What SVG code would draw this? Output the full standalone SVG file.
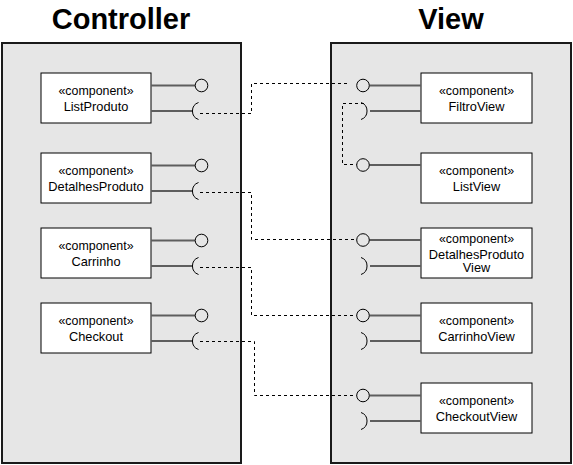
<svg xmlns="http://www.w3.org/2000/svg" width="573" height="465" viewBox="0 0 573 465">
<defs>
<style>
.title{font-family:"Liberation Sans",Arial,sans-serif;font-weight:bold;font-size:29px;fill:#000;text-anchor:middle}
.st{font-family:"Liberation Sans",Arial,sans-serif;font-size:12.4px;fill:#000;text-anchor:middle}
.nm{font-family:"Liberation Sans",Arial,sans-serif;font-size:12.8px;fill:#000;text-anchor:middle}
.cont{fill:#e6e6e6;stroke:#1a1a1a;stroke-width:2}
.box{fill:#fff;stroke:#000;stroke-width:1}
.lk{stroke:#5e5e5e;stroke-width:2;fill:none}
.ball{fill:none;stroke:#000;stroke-width:1}
.sock{fill:none;stroke:#000;stroke-width:1}
.dash{fill:none;stroke:#000;stroke-width:1;stroke-dasharray:3 3}
</style>
</defs>
<rect id="bg" x="0" y="0" width="573" height="465" fill="#fff"/>
<g id="controller">
<rect class="cont" x="2" y="43" width="239" height="420"/>
<text class="title" x="121" y="29">Controller</text>
</g>
<g id="view">
<rect class="cont" x="331" y="43" width="240" height="420"/>
<text class="title" x="451" y="29">View</text>
</g>

<g id="ListProduto">
<rect class="box" x="41" y="73" width="110" height="50"/>
<text class="st" x="96" y="95">«component»</text>
<text class="nm" x="96" y="111">ListProduto</text>
<line class="lk" x1="151" y1="85.5" x2="195" y2="85.5"/>
<circle class="ball" cx="201.5" cy="85.5" r="6.3"/>
<line class="lk" x1="151" y1="111" x2="192" y2="111"/>
<path class="sock" d="M198.5 102.5 A9 9 0 0 0 198.5 119.5"/>
</g>
<g id="DetalhesProduto">
<rect class="box" x="41" y="153" width="110" height="50"/>
<text class="st" x="96" y="175">«component»</text>
<text class="nm" x="96" y="191">DetalhesProduto</text>
<line class="lk" x1="151" y1="165.5" x2="195" y2="165.5"/>
<circle class="ball" cx="201.5" cy="165.5" r="6.3"/>
<line class="lk" x1="151" y1="191" x2="192" y2="191"/>
<path class="sock" d="M198.5 182.5 A9 9 0 0 0 198.5 199.5"/>
</g>
<g id="Carrinho">
<rect class="box" x="41" y="228" width="110" height="50"/>
<text class="st" x="96" y="250">«component»</text>
<text class="nm" x="96" y="266">Carrinho</text>
<line class="lk" x1="151" y1="240.5" x2="195" y2="240.5"/>
<circle class="ball" cx="201.5" cy="240.5" r="6.3"/>
<line class="lk" x1="151" y1="266" x2="192" y2="266"/>
<path class="sock" d="M198.5 257.5 A9 9 0 0 0 198.5 274.5"/>
</g>
<g id="Checkout">
<rect class="box" x="41" y="303" width="110" height="50"/>
<text class="st" x="96" y="325">«component»</text>
<text class="nm" x="96" y="341">Checkout</text>
<line class="lk" x1="151" y1="315.5" x2="195" y2="315.5"/>
<circle class="ball" cx="201.5" cy="315.5" r="6.3"/>
<line class="lk" x1="151" y1="341" x2="192" y2="341"/>
<path class="sock" d="M198.5 332.5 A9 9 0 0 0 198.5 349.5"/>
</g>

<g id="FiltroView">
<rect class="box" x="421" y="73" width="111" height="50"/>
<text class="st" x="476.5" y="95">«component»</text>
<text class="nm" x="476.5" y="111">FiltroView</text>
<line class="lk" x1="369.5" y1="85.5" x2="421" y2="85.5"/>
<circle class="ball" cx="363" cy="85.5" r="6.3"/>
<line class="lk" x1="370" y1="111" x2="421" y2="111"/>
<path class="sock" d="M361 102.5 A9 9 0 0 1 361 119.5"/>
</g>
<g id="ListView">
<rect class="box" x="421" y="153" width="111" height="50"/>
<text class="st" x="476.5" y="175">«component»</text>
<text class="nm" x="476.5" y="191">ListView</text>
<line class="lk" x1="369.5" y1="165" x2="421" y2="165"/>
<circle class="ball" cx="363" cy="165" r="6.3"/>
</g>
<g id="DetalhesProdutoView">
<rect class="box" x="421" y="228" width="111" height="50"/>
<text class="st" x="476.5" y="243">«component»</text>
<text class="nm" x="476.5" y="258.5">DetalhesProduto</text>
<text class="nm" x="476.5" y="272">View</text>
<line class="lk" x1="369.5" y1="240" x2="421" y2="240"/>
<circle class="ball" cx="363" cy="240" r="6.3"/>
<line class="lk" x1="370" y1="266" x2="421" y2="266"/>
<path class="sock" d="M361 257.5 A9 9 0 0 1 361 274.5"/>
</g>
<g id="CarrinhoView">
<rect class="box" x="421" y="303" width="111" height="50"/>
<text class="st" x="476.5" y="325">«component»</text>
<text class="nm" x="476.5" y="341">CarrinhoView</text>
<line class="lk" x1="369.5" y1="315.5" x2="421" y2="315.5"/>
<circle class="ball" cx="363" cy="315.5" r="6.3"/>
<line class="lk" x1="370" y1="341" x2="421" y2="341"/>
<path class="sock" d="M361 332.5 A9 9 0 0 1 361 349.5"/>
</g>
<g id="CheckoutView">
<rect class="box" x="421" y="383" width="111" height="50"/>
<text class="st" x="476.5" y="405">«component»</text>
<text class="nm" x="476.5" y="421">CheckoutView</text>
<line class="lk" x1="369.5" y1="395.5" x2="421" y2="395.5"/>
<circle class="ball" cx="363" cy="395.5" r="6.3"/>
<line class="lk" x1="370" y1="421" x2="421" y2="421"/>
<path class="sock" d="M361 412.5 A9 9 0 0 1 361 429.5"/>
</g>

<g id="connectors">
<path class="dash" d="M200 113.5 H251.5 V83.5 H350"/>
<path class="dash" d="M364 103.5 H342.5 V164.5 H356.5"/>
<path class="dash" d="M200 192.5 H251.5 V239.5 H356.5"/>
<path class="dash" d="M200 267.5 H251.5 V315.5 H356.5"/>
<path class="dash" d="M200 341.5 H254.5 V395.5 H356.5"/>
</g>
</svg>
